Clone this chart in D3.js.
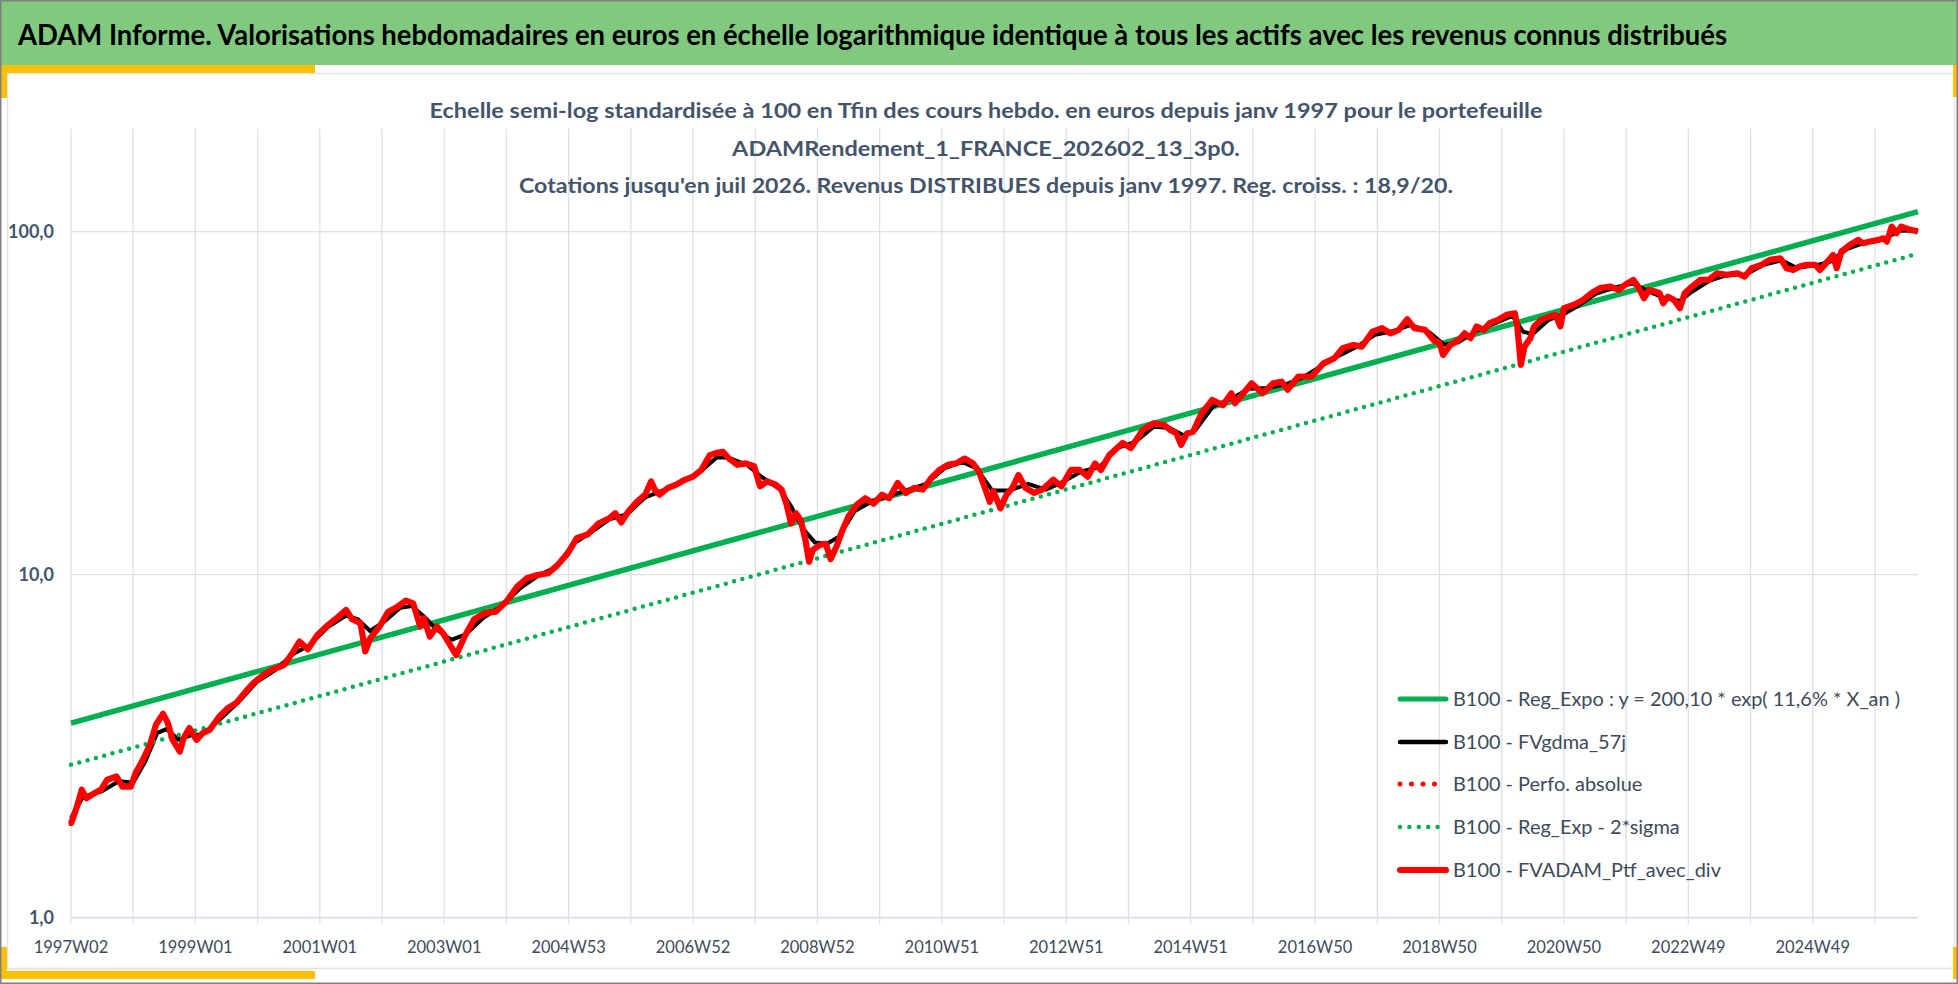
<!DOCTYPE html>
<html><head><meta charset="utf-8">
<script src="https://cdn.jsdelivr.net/npm/d3@7"></script>
<style>
html,body{margin:0;padding:0;background:#fff;}
svg{display:block;font-family:Lato,"Open Sans",sans-serif;}
</style></head><body>
<svg id="c" width="1958" height="984"></svg>
<script>
// ---------- texts ----------
const headerText = "ADAM Informe. Valorisations hebdomadaires en euros en échelle logarithmique identique à tous les actifs avec les revenus connus distribués";
const titleLines = [
  "Echelle semi-log standardisée à 100 en Tfin des cours hebdo.  en euros depuis janv 1997 pour le portefeuille",
  "ADAMRendement_1_FRANCE_202602_13_3p0.",
  "Cotations  jusqu'en juil 2026. Revenus DISTRIBUES depuis janv 1997. Reg. croiss. : 18,9/20."
];
const legendLabels = [
  "B100 - Reg_Expo : y = 200,10 * exp( 11,6% *  X_an )",
  "B100 - FVgdma_57j",
  "B100 - Perfo. absolue",
  "B100 - Reg_Exp - 2*sigma",
  "B100 - FVADAM_Ptf_avec_div"
];
// ---------- axes ----------
const weekCount = 1544;                 // last week index (2026 juillet)
const xTickWeeks = [0,104,208,312,416,520,624,728,832,936,1040,1144,1248,1352,1456];
const xTickLabels = ["1997W02","1999W01","2001W01","2003W01","2004W53","2006W52","2008W52","2010W51","2012W51","2014W51","2016W50","2018W50","2020W50","2022W49","2024W49"];
const yTickValues = [1,10,100];
const yTickLabels = ["1,0","10,0","100,0"];
// ---------- series ----------
const regWeeks = [0,1544];
const regExpo = [3.69,114.4];
const regLow  = [2.79,86.2];
const perfWeeks = [0,5,9,13,19,25,30,38,43,50,54,60,66,71,77,81,85,91,94,99,105,110,116,124,131,138,146,153,161,168,178,185,191,198,206,215,222,230,235,242,246,250,258,265,273,280,286,292,295,300,306,311,316,322,329,337,346,355,364,373,381,390,399,406,415,423,432,441,450,455,460,466,473,480,485,488,492,499,506,513,520,527,534,539,545,550,557,564,571,576,582,589,594,598,602,606,610,614,617,620,626,631,635,640,645,650,657,664,671,678,684,691,698,705,712,719,726,733,740,747,754,759,764,768,771,777,782,787,792,798,805,812,821,828,836,843,850,856,861,868,879,886,896,905,914,919,924,928,933,938,945,954,963,970,973,980,987,996,1005,1012,1017,1026,1037,1047,1056,1063,1072,1079,1088,1096,1103,1110,1117,1123,1132,1139,1144,1147,1153,1160,1165,1170,1175,1181,1186,1193,1200,1207,1209,1212,1215,1220,1223,1229,1236,1241,1245,1248,1256,1264,1271,1278,1287,1294,1299,1306,1310,1315,1319,1324,1328,1331,1335,1340,1345,1349,1355,1362,1369,1376,1384,1393,1399,1405,1413,1420,1429,1434,1440,1445,1451,1458,1462,1466,1473,1476,1480,1487,1494,1498,1504,1511,1515,1518,1522,1526,1530,1536,1544];
const perfValues = [1.88,2.11,2.36,2.23,2.30,2.36,2.52,2.58,2.41,2.41,2.64,2.88,3.19,3.65,3.93,3.69,3.30,3.05,3.33,3.57,3.30,3.45,3.53,3.86,4.08,4.22,4.56,4.85,5.10,5.28,5.45,5.90,6.38,6.06,6.67,7.14,7.46,7.89,7.41,7.22,5.97,6.52,7.06,7.78,8.07,8.40,8.25,7.06,7.46,6.60,7.06,6.75,6.31,5.83,6.60,7.41,7.72,7.80,8.35,9.23,9.76,9.98,10.1,10.6,11.5,12.8,13.1,14.1,14.6,15.1,14.2,15.3,16.3,17.1,18.7,17.7,17.1,17.9,18.3,18.9,19.3,20.2,22.3,22.6,22.8,21.8,20.9,21.1,20.7,18.1,18.7,18.3,17.7,16.1,14.1,15.1,14.4,12.6,10.9,11.8,12.2,12.3,11.1,12.1,13.5,14.8,16.0,16.7,16.1,17.1,16.7,18.5,17.3,17.9,17.7,19.1,20.2,20.9,21.1,21.8,21.1,20.0,17.9,16.3,17.5,15.6,17.1,17.9,19.5,17.9,17.3,17.7,18.9,18.1,20.2,20.2,19.3,21.1,20.2,22.3,24.2,23.4,26.4,27.6,27.3,26.4,25.8,23.9,25.8,26.1,29.5,32.3,31.2,33.8,31.6,33.8,36.1,33.8,36.1,36.5,34.6,37.8,37.8,41.3,42.7,45.7,46.7,46.2,51.1,52.3,50.5,51.7,55.5,52.3,51.7,48.3,47.3,43.7,46.7,48.3,50.5,48.9,52.9,51.7,54.1,55.3,57.2,57.8,52.9,40.9,46.2,48.9,52.9,55.3,56.5,57.2,52.9,59.8,61.1,63.2,66.1,68.4,69.1,67.6,69.9,72.3,69.1,63.9,67.6,66.9,66.1,61.8,64.6,63.2,59.8,66.1,69.1,72.3,72.3,75.6,74.8,75.6,73.9,78.2,80.0,82.7,83.6,78.2,77.3,79.1,80.0,80.0,77.3,80.0,85.5,78.2,87.5,91.5,94.6,92.5,93.5,94.6,95.6,93.5,103.4,98.9,103.4,101.6,100.0];
const mmWeeks = [0,10,25,40,52,62,72,80,90,100,110,125,140,155,170,185,200,215,230,240,250,262,275,285,295,305,318,330,345,360,375,390,405,420,435,450,465,480,495,510,525,540,550,565,578,592,602,612,622,632,642,655,670,685,700,715,730,745,757,770,785,800,815,830,845,860,875,890,905,918,930,940,955,970,985,1000,1015,1030,1045,1060,1075,1090,1105,1120,1135,1148,1160,1175,1190,1205,1214,1222,1235,1248,1260,1275,1290,1305,1318,1332,1345,1355,1370,1385,1400,1415,1430,1442,1458,1470,1485,1500,1515,1528,1544];
const mmValues = [1.95,2.25,2.33,2.50,2.48,2.85,3.45,3.55,3.30,3.40,3.42,3.80,4.25,4.85,5.25,5.85,6.25,7.05,7.60,7.40,6.85,7.30,8.00,8.10,7.55,6.95,6.45,6.70,7.50,8.10,9.10,9.90,10.5,12.3,13.3,14.5,15.0,16.8,17.6,18.6,19.8,22.0,21.9,20.9,19.2,17.8,15.8,13.6,12.4,12.3,12.9,15.3,16.4,17.0,17.7,18.4,20.4,21.3,20.4,17.6,17.6,18.4,17.7,18.7,20.0,20.6,23.4,24.4,27.0,26.8,25.5,26.4,31.0,32.6,34.8,35.0,35.8,37.6,40.5,43.5,46.2,50.0,51.2,53.5,51.0,46.8,47.6,51.3,54.0,56.8,51.0,50.3,55.2,57.5,60.8,66.0,68.6,70.6,67.2,64.0,62.8,66.8,72.0,74.8,75.0,80.0,82.5,78.5,79.6,81.5,89.0,93.0,94.6,100.5,100.8];

// ---------- drawing ----------
const svg = d3.select("#c");
const W = 1958, H = 984;
const GREEN = "#00B050", RED = "#FF0000", TXT = "#44546A", TXT2 = "#404A5A", GRID = "#DCE0E8";

// panel
svg.append("rect").attr("x",0).attr("y",0).attr("width",W).attr("height",H).attr("fill","#fff");
svg.append("rect").attr("x",7.5).attr("y",73.5).attr("width",1947).attr("height",895).attr("fill","#fff").attr("stroke","#E3E3E3").attr("stroke-width",1.5);
// header band
svg.append("rect").attr("x",0).attr("y",0).attr("width",W).attr("height",65).attr("fill","#80C97F");
const ht = svg.append("text").attr("x",18).attr("y",45).attr("font-size",28.5).attr("font-weight","bold").attr("fill","#000").text(headerText);
ht.attr("textLength",1709).attr("lengthAdjust","spacingAndGlyphs");
// yellow corners
const Y = "#FFC000";
[[0,65,315,8],[0,65,7,33],[0,971,315,8],[0,947,7,32],[1953,65,5,32],[1953,947,5,32]].forEach(r=>{
  svg.append("rect").attr("x",r[0]).attr("y",r[1]).attr("width",r[2]).attr("height",r[3]).attr("fill",Y);
});
// outer border
svg.append("rect").attr("x",0.75).attr("y",0.75).attr("width",W-1.5).attr("height",H-1.5).attr("fill","none").attr("stroke","#808080").attr("stroke-width",1.5);

// scales
const x = d3.scaleLinear().domain([0,weekCount]).range([71,1918]);
const y = d3.scaleLog().domain([1,200]).range([917.7,128.3]);

// grid
const g = svg.append("g");
const gridWeeks = d3.range(0, weekCount+1, 52);
g.selectAll("line.v").data(gridWeeks).join("line")
  .attr("x1",d=>x(d)).attr("x2",d=>x(d)).attr("y1",y(200)).attr("y2",y(1)+6)
  .attr("stroke",GRID).attr("stroke-width",1.3);
g.selectAll("line.h").data(yTickValues).join("line")
  .attr("x1",x(0)).attr("x2",x(weekCount)).attr("y1",d=>y(d)).attr("y2",d=>y(d))
  .attr("stroke",GRID).attr("stroke-width",d=>d===1?2:1.3);

// y labels
svg.selectAll("text.yl").data(yTickValues).join("text")
  .attr("x",54).attr("y",d=>y(d)).attr("dy","0.36em").attr("text-anchor","end")
  .attr("font-size",18).attr("font-weight","bold").attr("fill",TXT)
  .text((d,i)=>yTickLabels[i]);
// x labels
svg.selectAll("text.xl").data(xTickWeeks).join("text")
  .attr("x",d=>x(d)).attr("y",947).attr("dy","0.36em").attr("text-anchor","middle")
  .attr("font-size",16.5).attr("fill",TXT2)
  .text((d,i)=>xTickLabels[i]);

// title
const tBase = [118,155.5,193];
const tTargets = [1113,null,934];
const tNodes = titleLines.map((t,i)=> svg.append("text").attr("x",986).attr("y",tBase[i]).attr("text-anchor","middle")
  .attr("font-size",20.5).attr("font-weight","bold").attr("fill",TXT).text(t));
const r1 = 1113 / tNodes[0].node().getComputedTextLength();
tNodes.forEach((n,i)=>{
  const w = tTargets[i] || n.node().getComputedTextLength()*r1;
  n.attr("textLength",w).attr("lengthAdjust","spacingAndGlyphs");
});

// series
const line = d3.line().x(d=>x(d[0])).y(d=>y(d[1]));
const perf = perfWeeks.map((w,i)=>[w,perfValues[i]]);
const mm = mmWeeks.map((w,i)=>[w,mmValues[i]]);
const reg = regWeeks.map((w,i)=>[w,regExpo[i]]);
const low = regWeeks.map((w,i)=>[w,regLow[i]]);
const plot = svg.append("g").attr("fill","none").attr("stroke-linejoin","round");
plot.append("path").attr("d",line(reg)).attr("stroke",GREEN).attr("stroke-width",5.5);
plot.append("path").attr("d",line(mm)).attr("stroke","#000").attr("stroke-width",4);
plot.append("path").attr("d",line(perf)).attr("stroke",RED).attr("stroke-width",5).attr("stroke-dasharray","0 11.5").attr("stroke-linecap","round");
plot.append("path").attr("d",line(low)).attr("stroke",GREEN).attr("stroke-width",4.5).attr("stroke-dasharray","0 8.6").attr("stroke-linecap","round");
plot.append("path").attr("d",line(perf)).attr("stroke",RED).attr("stroke-width",6.2);

// legend
const legRows = [699,742,784,827,870];
const legStyles = [
  {c:GREEN,w:5,d:null},{c:"#000",w:4.5,d:null},{c:RED,w:5,d:"0 11.5"},{c:GREEN,w:4.5,d:"0 9.4"},{c:RED,w:6,d:null}
];
const lg = svg.append("g");
legStyles.forEach((s,i)=>{
  const l = lg.append("line").attr("x1",1400).attr("x2",1446).attr("y1",legRows[i]).attr("y2",legRows[i])
    .attr("stroke",s.c).attr("stroke-width",s.w).attr("stroke-linecap","round");
  if (s.d) l.attr("stroke-dasharray",s.d);
});
const lt = legendLabels.map((t,i)=> lg.append("text").attr("x",1453).attr("y",legRows[i]).attr("dy","0.36em")
  .attr("font-size",18.5).attr("fill",TXT2).text(t));
const lr = 447 / lt[0].node().getComputedTextLength();
lt.forEach(n=> n.attr("textLength", n.node().getComputedTextLength()*lr).attr("lengthAdjust","spacingAndGlyphs"));
</script>
</body></html>
